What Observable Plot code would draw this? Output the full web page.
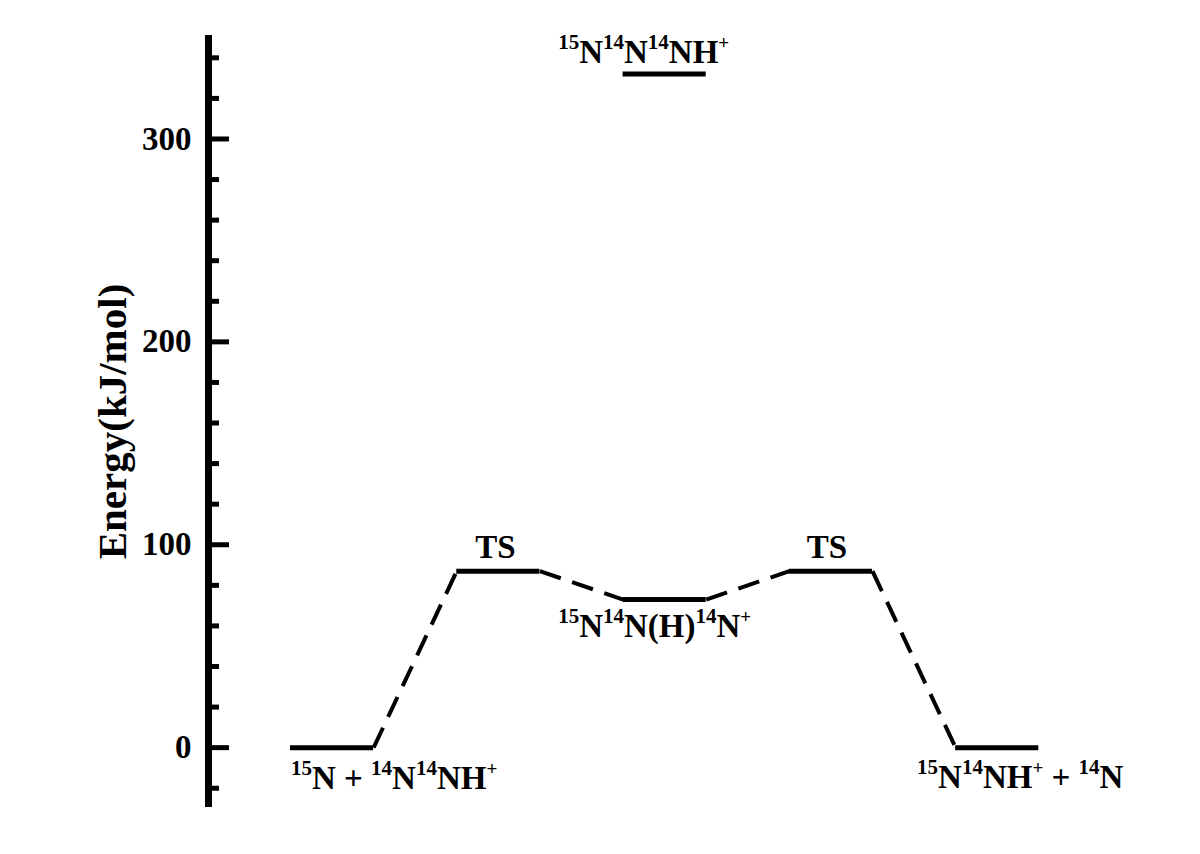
<!DOCTYPE html>
<html><head><meta charset="utf-8">
<script src="https://cdn.jsdelivr.net/npm/d3@7"></script>
<script src="https://cdn.jsdelivr.net/npm/@observablehq/plot@0.6"></script>
<style>body{margin:0;background:#fff}</style>
</head><body><div id="chart"></div>
<script>
// ---- data ----
const species = ["^15N + ^14N^14NH^+", "TS", "^15N^14N(H)^14N^+", "TS", "^15N^14NH^+ + ^14N", "^15N^14N^14NH^+"];
const stage = [1, 2, 3, 4, 5, 3];
const energy = [0, 87, 73, 87, 0, 332];
const pathway = [0, 1, 2, 3, 4];
const majorTicks = [0, 100, 200, 300];
const minorTicks = [-20, 20, 40, 60, 80, 120, 140, 160, 180, 220, 240, 260, 280, 320, 340];
const yLabel = "Energy(kJ/mol)";

// ---- build ----
const levels = species.map((s, i) => ({species: s, stage: stage[i], energy: energy[i]}));
const links = pathway.slice(1).map((j, k) => ({a: levels[pathway[k]], b: levels[j]}));
const hw = 0.25;
const xMin = 0.257, xMax = 6;
const FONT = "Liberation Serif, 'Times New Roman', serif";
const labelOffsets = [
  {dx: 62, dy: 41}, {dx: -3, dy: -13}, {dx: -10, dy: 37},
  {dx: -4, dy: -13}, {dx: 23, dy: 40}, {dx: -21, dy: -11}
];

const textMarks = levels.map((d, i) => Plot.text([d], {
  x: "stage", y: "energy", text: "species",
  dx: labelOffsets[i].dx, dy: labelOffsets[i].dy,
  lineAnchor: "bottom", textAnchor: "middle",
  fontSize: 33, fontWeight: "bold", fontFamily: FONT, fill: "#000"
}));

const chart = Plot.plot({
  width: 1200, height: 854,
  marginLeft: 208, marginRight: 37, marginTop: 35, marginBottom: 47,
  x: {domain: [xMin, xMax], axis: null},
  y: {domain: [-29.5, 351], axis: null},
  style: {background: "#fff", color: "#000", overflow: "visible"},
  marks: [
    Plot.ruleX([xMin], {stroke: "#000", strokeWidth: 7}),
    Plot.axisY({ticks: majorTicks, anchor: "right", frameAnchor: "left", tickSize: 20, strokeWidth: 5, fill: "none", label: null}),
    Plot.axisY({ticks: minorTicks, anchor: "right", frameAnchor: "left", tickSize: 10, strokeWidth: 5, fill: "none", label: null}),
    Plot.axisY({ticks: majorTicks, anchor: "left", tickSize: 0, tickPadding: 17, fontSize: 33, fontWeight: "bold", fontFamily: FONT, label: null}),
    Plot.text([yLabel], {frameAnchor: "left", textAnchor: "middle", rotate: -90, dx: -96, fontSize: 41, fontWeight: "bold", fontFamily: FONT, fill: "#000"}),
    Plot.ruleY(levels, {y: "energy", x1: d => d.stage - hw, x2: d => d.stage + hw, stroke: "#000", strokeWidth: 5}),
    Plot.link(links, {x1: d => d.a.stage + hw, y1: d => d.a.energy, x2: d => d.b.stage - hw, y2: d => d.b.energy,
      stroke: "#000", strokeWidth: 4, strokeDasharray: "22,12"}),
    ...textMarks
  ]
});

// render superscripts (^15, ^+) as raised tspans
function supify(t) {
  const s = t.textContent;
  if (!s.includes("^")) return;
  const parts = s.split(/(\^(?:\d+|\+))/).filter(p => p.length);
  t.textContent = "";
  t.setAttribute("style", "white-space:pre");
  let raised = false;
  for (const p of parts) {
    const ts = document.createElementNS("http://www.w3.org/2000/svg", "tspan");
    if (p[0] === "^") {
      ts.textContent = p.slice(1);
      ts.setAttribute("font-size", p === "^+" ? 19 : 21);
      if (!raised) { ts.setAttribute("dy", -14); raised = true; }
    } else {
      ts.textContent = p;
      if (raised) { ts.setAttribute("dy", 14); raised = false; }
    }
    t.appendChild(ts);
  }
}
chart.querySelectorAll("text").forEach(supify);
document.getElementById("chart").appendChild(chart);
</script>
</body></html>
